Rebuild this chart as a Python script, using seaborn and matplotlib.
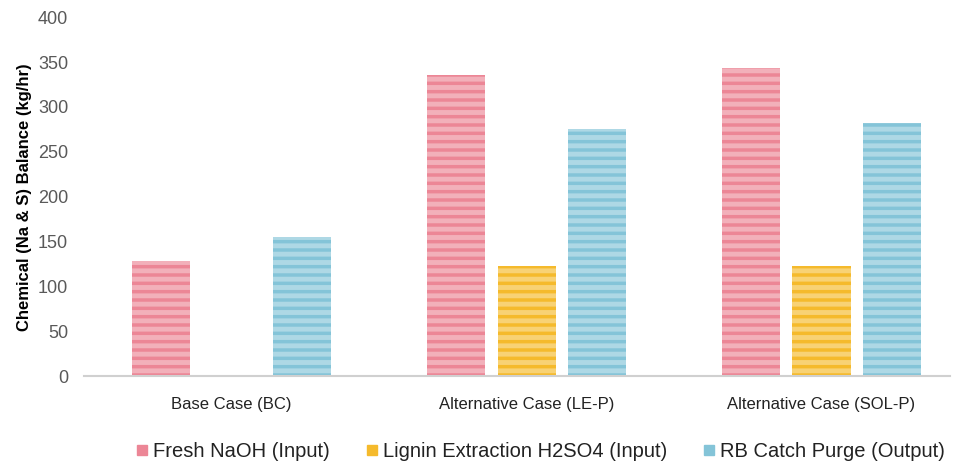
import matplotlib
matplotlib.use("Agg")
import matplotlib.pyplot as plt
import seaborn as sns
import pandas as pd
from matplotlib.lines import Line2D

categories = ["Base Case (BC)", "Alternative Case (LE-P)", "Alternative Case (SOL-P)"]
series = ["Fresh NaOH (Input)", "Lignin Extraction H2SO4 (Input)", "RB Catch Purge (Output)"]
fresh_naoh = [128, 336, 343]
lignin_h2so4 = [0, 123, 123]
rb_purge = [155, 275, 282]
colors = ["#EC8696", "#F5BA2C", "#84C4D8"]

rows = []
for s, vals in zip(series, [fresh_naoh, lignin_h2so4, rb_purge]):
    for c, v in zip(categories, vals):
        rows.append({"Case": c, "Series": s, "Value": v})
df = pd.DataFrame(rows)

sns.set_theme(style="white")
plt.rcParams['font.family'] = ['Liberation Sans', 'DejaVu Sans']
plt.rcParams['hatch.linewidth'] = 3.5

fig = plt.figure(figsize=(9.6, 4.65), dpi=100)
ax = fig.add_axes([0.087, 0.191, 0.903, 0.772])
sns.barplot(data=df, x="Case", y="Value", hue="Series", hue_order=series,
            palette=colors, width=0.72, gap=0.18, ax=ax, legend=False,
            saturation=1, errorbar=None)

for patch in ax.patches:
    patch.set_hatch("--")
    patch.set_edgecolor((1, 1, 1, 0.35))
    patch.set_linewidth(0)

ax.set_ylim(0, 400)
ax.set_yticks(range(0, 401, 50))
ax.set_xlim(-0.502, 2.437)
ax.tick_params(axis='y', colors='#595959', labelsize=13, length=0, pad=11)
ax.tick_params(axis='x', colors='#222222', labelsize=12, length=0, pad=15)
for lab in ax.get_yticklabels():
    lab.set_color('#595959')
ax.set_xlabel("")
ax.set_ylabel("Chemical (Na & S) Balance (kg/hr)", fontsize=12, fontweight='bold', color='black', labelpad=4)
for sp in ["top", "right", "left"]:
    ax.spines[sp].set_visible(False)
ax.spines["bottom"].set_color("#D0D0D0")
ax.spines["bottom"].set_linewidth(1.5)

handles = [Line2D([0], [0], marker='s', linestyle='', markersize=7,
                  markerfacecolor=c, markeredgecolor=c) for c in colors]
fig.legend(handles, series, loc='center', bbox_to_anchor=(0.563, 0.028), ncol=3,
           frameon=False, fontsize=14.5, handlelength=0.6, handletextpad=0.25,
           columnspacing=1.8, labelcolor='#222222')

fig.savefig("out.png", dpi=100)
